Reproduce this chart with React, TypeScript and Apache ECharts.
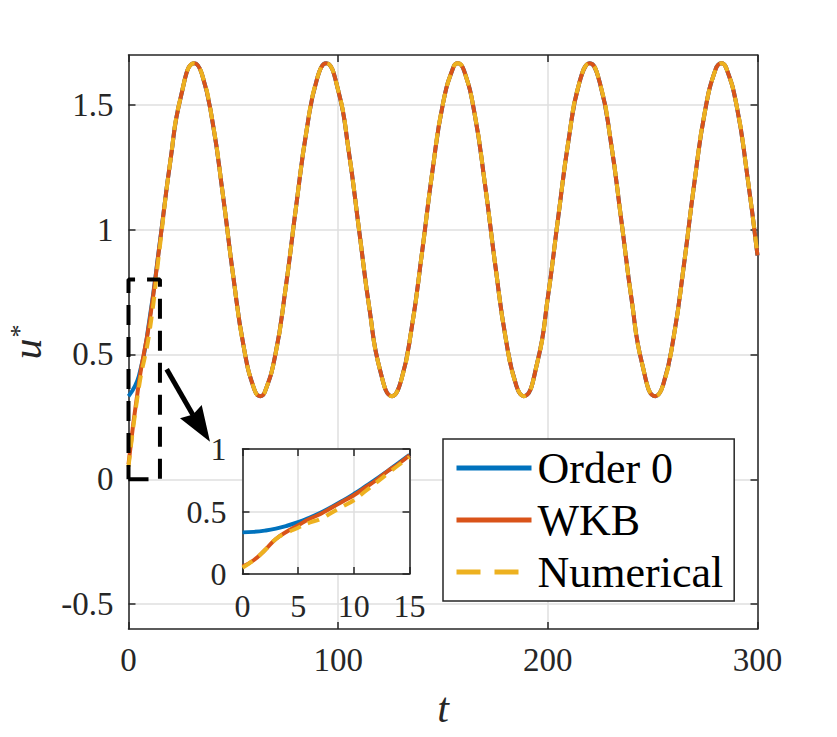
import React, { useEffect, useRef } from 'react';
import * as echarts from 'echarts';

// ---- data ----
// start of the main panel (t = 0..15), where the three curves differ
const tHead = [0, 5, 10, 15];
const order0Head = [0.333, 0.415, 0.640, 0.953];
const wkbHead = [0.06, 0.39, 0.63, 0.95];
const numericalHead = [0.05, 0.37, 0.59, 0.935];

// t >= 20, where all three curves coincide (peaks and troughs included)
const tOsc = [20, 25, 31.4, 35, 40, 45, 50, 55, 60, 62.8,
  65, 70, 75, 80, 85, 90, 94.2, 100, 105, 110,
  115, 120, 125.7, 130, 135, 140, 145, 150, 155, 157.1,
  160, 165, 170, 175, 180, 185, 188.5, 195, 200, 205,
  210, 215, 220, 225, 230, 235, 240, 245, 251.3, 255,
  260, 265, 270, 275, 280, 282.7, 285, 290, 295, 300];
const oscillation = [1.277, 1.534, 1.667, 1.624, 1.436, 1.141, 0.811, 0.528, 0.360, 0.333,
  0.349, 0.497, 0.769, 1.097, 1.401, 1.607, 1.667, 1.559, 1.317, 0.997,
  0.678, 0.437, 0.333, 0.395, 0.603, 0.909, 1.237, 1.506, 1.652, 1.667,
  1.638, 1.468, 1.183, 0.854, 0.560, 0.374, 0.333, 0.469, 0.728, 1.053,
  1.365, 1.588, 1.667, 1.582, 1.355, 1.041, 0.717, 0.462, 0.333, 0.378,
  0.569, 0.865, 1.195, 1.477, 1.642, 1.667, 1.650, 1.499, 1.225, 0.897];

const tInset = [0, 1, 2, 3, 4, 5, 6, 7, 8, 9, 10, 11, 12, 13, 14, 15];
const order0Inset = [0.333, 0.337, 0.347, 0.363, 0.386, 0.415, 0.450, 0.490, 0.536, 0.586, 0.640, 0.698, 0.758, 0.822, 0.887, 0.953];
const wkbInset = [0.06, 0.11, 0.19, 0.28, 0.34, 0.39, 0.44, 0.48, 0.53, 0.58, 0.63, 0.69, 0.75, 0.82, 0.88, 0.95];
const numericalInset = [0.05, 0.11, 0.19, 0.28, 0.33, 0.37, 0.41, 0.44, 0.49, 0.54, 0.59, 0.66, 0.73, 0.80, 0.87, 0.935];

const zoomBoxT = [0, 15, 15, 0, 0];
const zoomBoxU = [0, 0, 0.8, 0.8, 0];

const yTicksMain = [-0.5, 0, 0.5, 1, 1.5];
const seriesNames = ['Order 0', 'WKB', 'Numerical'];

// ---- styles ----
const FONT = '"Liberation Serif", "DejaVu Serif", serif';
const AX = '#262626';
const GRID = '#dfdfdf';
const BLUE = '#0072BD';
const RED = '#D95319';
const YELLOW = '#EDB120';

function mainSeries(head: number[]) {
  const pts = tHead.map((t, i) => [t, head[i]]);
  return pts.concat(tOsc.map((t, i) => [t, oscillation[i]]));
}
function zip(ts: number[], us: number[]) {
  return ts.map((t, i) => [t, us[i]]);
}

const axisLine = { show: true, onZero: false, lineStyle: { color: AX, width: 1.5 } };
const tick = { show: true, inside: true, length: 7, lineStyle: { color: AX, width: 1.5 } };
const split = { show: true, lineStyle: { color: GRID, width: 1.5 } };

function labelStyle(size: number, margin: number) {
  return { show: true, fontSize: size, margin, color: AX, fontFamily: FONT, showMinLabel: true, showMaxLabel: true };
}

function lineSeries(name: string, data: number[][], color: string, xi: number, yi: number, dashed: boolean, z: number) {
  return {
    name,
    type: 'line',
    xAxisIndex: xi,
    yAxisIndex: yi,
    data,
    smooth: true,
    symbol: 'none',
    showSymbol: false,
    z,
    lineStyle: { color, width: 4, type: dashed ? [12, 8] : 'solid', cap: 'butt' },
    itemStyle: { color },
  };
}

export default function App() {
  const ref = useRef<HTMLDivElement>(null);
  useEffect(() => {
    const chart = echarts.init(ref.current!, null, { renderer: 'svg' });
    const option: any = {
      animation: false,
      backgroundColor: '#ffffff',
      grid: [
        { left: 128.5, top: 55, width: 629, height: 574, show: false, containLabel: false, outerBoundsMode: 'none' },
        { left: 242.5, top: 449, width: 167, height: 125, show: true, backgroundColor: '#ffffff', borderWidth: 0, z: 2, containLabel: false, outerBoundsMode: 'none' },
      ],
      xAxis: [
        {
          type: 'value', gridIndex: 0, min: 0, max: 300, interval: 100, position: 'bottom',
          axisLine, axisTick: tick, axisLabel: labelStyle(33, 14), splitLine: split,
          name: 't', nameLocation: 'middle', nameGap: 58,
          nameTextStyle: { fontSize: 42, fontStyle: 'italic', fontFamily: FONT, color: AX },
        },
        {
          type: 'value', gridIndex: 0, min: 0, max: 300, interval: 100, position: 'top',
          axisLine, axisTick: tick, axisLabel: { show: false }, splitLine: { show: false },
        },
        {
          type: 'value', gridIndex: 1, min: 0, max: 15, interval: 5, position: 'bottom', z: 2,
          axisLine, axisTick: tick, axisLabel: labelStyle(32, 16), splitLine: split,
        },
        {
          type: 'value', gridIndex: 1, min: 0, max: 15, interval: 5, position: 'top', z: 2,
          axisLine, axisTick: tick, axisLabel: { show: false }, splitLine: { show: false },
        },
      ],
      yAxis: [
        {
          type: 'value', gridIndex: 0, min: -0.6, max: 1.7, position: 'left',
          axisLine, axisTick: { ...tick, customValues: yTicksMain },
          axisLabel: { ...labelStyle(33, 15), customValues: yTicksMain }, splitLine: split,
          name: '{u|u}{s|*}', nameLocation: 'middle', nameGap: 82,
          nameTextStyle: {
            fontFamily: FONT, color: AX, lineHeight: 40,
            rich: {
              u: { fontSize: 42, lineHeight: 40, fontStyle: 'italic', fontFamily: FONT, color: AX },
              s: { fontSize: 26, lineHeight: 40, fontFamily: FONT, color: AX, verticalAlign: 'top', padding: [0, 0, 0, 1] },
            },
          },
        },
        {
          type: 'value', gridIndex: 0, min: -0.6, max: 1.7, position: 'right',
          axisLine, axisTick: { ...tick, customValues: yTicksMain },
          axisLabel: { show: false, customValues: yTicksMain }, splitLine: { show: false },
        },
        {
          type: 'value', gridIndex: 1, min: 0, max: 1, interval: 0.5, position: 'left', z: 2,
          axisLine, axisTick: tick, axisLabel: labelStyle(32, 16), splitLine: split,
        },
        {
          type: 'value', gridIndex: 1, min: 0, max: 1, interval: 0.5, position: 'right', z: 2,
          axisLine, axisTick: tick, axisLabel: { show: false }, splitLine: { show: false },
        },
      ],
      legend: {
        data: [
          { name: seriesNames[0] },
          { name: seriesNames[1] },
          { name: seriesNames[2], lineStyle: { type: [24, 14] } },
        ],
        orient: 'vertical',
        left: 443,
        top: 439,
        padding: [5, 11, 5, 11],
        itemGap: 4,
        itemWidth: 75,
        itemHeight: 4,
        selectedMode: false,
        borderColor: AX,
        borderWidth: 1.5,
        borderRadius: 0,
        backgroundColor: '#ffffff',
        itemStyle: { opacity: 0 },
        lineStyle: { width: 5 },
        textStyle: { fontSize: 44, lineHeight: 48, fontFamily: FONT, color: '#000', padding: [0, 0, 0, 1] },
        z: 6,
      },
      series: [
        lineSeries(seriesNames[0], mainSeries(order0Head), BLUE, 0, 0, false, 2),
        lineSeries(seriesNames[1], mainSeries(wkbHead), RED, 0, 0, false, 2),
        lineSeries(seriesNames[2], mainSeries(numericalHead), YELLOW, 0, 0, true, 2),
        {
          name: 'zoomBox', type: 'line', xAxisIndex: 0, yAxisIndex: 0, data: zip(zoomBoxT, zoomBoxU),
          symbol: 'none', showSymbol: false, smooth: false, clip: false, z: 3,
          lineStyle: { color: '#000', width: 4, type: [20, 12] },
        },
        lineSeries(seriesNames[0], zip(tInset, order0Inset), BLUE, 2, 2, false, 4),
        lineSeries(seriesNames[1], zip(tInset, wkbInset), RED, 2, 2, false, 4),
        lineSeries(seriesNames[2], zip(tInset, numericalInset), YELLOW, 2, 2, true, 4),
      ],
      graphic: [
        { type: 'line', z: 10, shape: { x1: 166.7, y1: 369.3, x2: 193, y2: 415 }, style: { stroke: '#000', lineWidth: 5 } },
        { type: 'polygon', z: 10, shape: { points: [[210, 441.7], [180, 418.3], [193, 414.5], [201.7, 405]] }, style: { fill: '#000' } },
      ],
    };
    chart.setOption(option);
    return () => chart.dispose();
  }, []);
  return (
    <div
      ref={ref}
      style={{ position: 'fixed', left: 0, top: 0, width: 837, height: 737, background: '#fff' }}
    />
  );
}
